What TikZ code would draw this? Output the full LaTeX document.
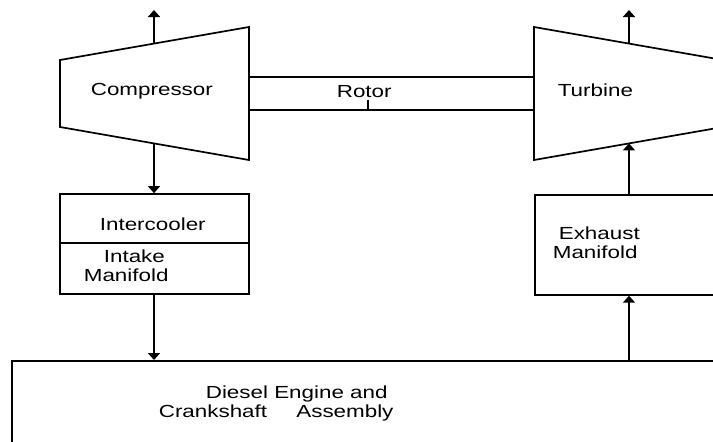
\documentclass[tikz,border=0pt]{standalone}
\usepackage{fontspec}
\setmainfont[FakeStretch=1.28]{Liberation Sans}
\usetikzlibrary{arrows.meta}

\begin{document}
\begin{tikzpicture}[x=1pt,y=-1pt,line width=1.7pt,
  flow/.style={-{Triangle[length=7pt,width=12pt]}},
  box/.style={draw,rectangle,inner sep=0pt},
  lbl/.style={anchor=base west,inner sep=0pt,font=\fontsize{17.5}{19}\selectfont}]
  \useasboundingbox (0,0) rectangle (713,442);
  \clip (0,0) rectangle (713,442);
  % compressor and turbine
  \draw (60,60) -- (249,27) -- (249,160) -- (60,127) -- cycle;
  \draw (534,27) -- (723,60) -- (723,127) -- (534,160) -- cycle;
  \coordinate (compTop) at (154,43.7);
  \coordinate (compBot) at (154,143.3);
  \coordinate (compExit) at (154,10);
  \coordinate (turbTop) at (629,43.6);
  \coordinate (turbBot) at (629,143.4);
  \coordinate (turbExit) at (629,10);
  % rotor
  \draw (249,77) -- (534,77);
  \draw (249,110) -- (534,110);
  \draw (368,100) -- (368,110);
  % boxes
  \node[box,minimum width=189,minimum height=100] (cooler) at (154.5,244) {};
  \draw (60,243) -- (249,243);
  \node[box,minimum width=266,minimum height=100,anchor=north west] (exhaust) at (534,194) {};
  \node[box,minimum width=800,minimum height=200,anchor=north west] (engine) at (11,360) {};
  % labels
  \node[lbl] (compLabel) at (90,95) {Compressor};
  \node[lbl] (rotorLabel) at (336,97) {Rotor};
  \node[lbl] (turbLabel) at (557,96) {Turbine};
  \node[lbl] (coolLabel) at (99,230) {Intercooler};
  \node[lbl] (intakeA) at (103,262) {Intake};
  \node[lbl] (intakeB) at (83,281) {Manifold};
  \node[lbl] (exhA) at (558,239) {Exhaust};
  \node[lbl] (exhB) at (552,258) {Manifold};
  \node[lbl] (engA) at (205,398) {Diesel Engine and};
  \node[lbl] (engB) at (158,417) {Crankshaft\hspace{23pt} Assembly};
  % flows
  \draw[flow] (compTop) -- (compExit);
  \draw[flow] (compBot) -- (compBot |- cooler.north);
  \draw[flow] (cooler.south -| compBot) -- (compBot |- engine.north);
  \draw[flow] (engine.north -| turbBot) -- (exhaust.south -| turbBot);
  \draw[flow] (exhaust.north -| turbBot) -- (turbBot);
  \draw[flow] (turbTop) -- (turbExit);
\end{tikzpicture}
\end{document}
